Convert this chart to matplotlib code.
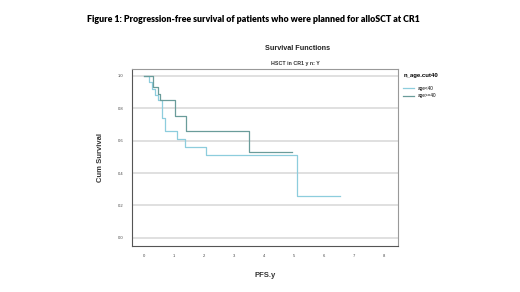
import matplotlib
matplotlib.use("Agg")
import matplotlib.pyplot as plt

plt.rcParams["font.family"] = ["Liberation Sans", "DejaVu Sans"]

# Kaplan-Meier step data (time in years, survival)
t_young = [0.0, 0.17, 0.25, 0.35, 0.45, 0.60, 0.69, 1.08, 1.36, 2.06, 5.08, 6.53]
s_young = [1.0, 0.96, 0.92, 0.88, 0.85, 0.74, 0.66, 0.61, 0.56, 0.51, 0.26, 0.26]
t_old = [0.0, 0.30, 0.45, 0.53, 1.03, 1.39, 3.49, 4.91]
s_old = [1.0, 0.93, 0.89, 0.85, 0.75, 0.66, 0.53, 0.53]

labels = ["age<40", "age>=40"]
colors = ["#8dcddd", "#6a9c9a"]
x_ticks = [0, 1, 2, 3, 4, 5, 6, 7, 8]
y_ticks = [0.0, 0.2, 0.4, 0.6, 0.8, 1.0]

fig = plt.figure(figsize=(5.2, 2.92), dpi=100)
ax = fig.add_axes([132/520, 1 - 246/292, (398-132)/520, (246-68.5)/292])

ax.step(t_young, s_young, where="post", color=colors[0], lw=0.9, label=labels[0])
ax.step(t_old, s_old, where="post", color=colors[1], lw=0.9, label=labels[1])

ax.set_xlim(-0.41, 8.46)
ax.set_ylim(-0.05, 1.045)
ax.set_xticks(x_ticks)
ax.set_xticklabels([str(v) for v in x_ticks], fontsize=3, color="#444444")
ax.set_yticks(y_ticks)
ax.set_yticklabels([f"{v:.1f}" for v in y_ticks], fontsize=3, color="#444444")
ax.tick_params(length=0, pad=6)
ax.grid(axis="y", color="#dddddd", lw=1.3)
ax.set_axisbelow(True)
for side in ["left", "bottom"]:
    ax.spines[side].set_color("#555555")
    ax.spines[side].set_linewidth(0.8)
for side in ["top", "right"]:
    ax.spines[side].set_color("#999999")
    ax.spines[side].set_linewidth(0.8)

ax.set_xlabel("PFS.y", fontsize=5.5, fontweight="bold", color="#333333", labelpad=10)
ax.set_ylabel("Cum Survival", fontsize=5.5, fontweight="bold", color="#333333", labelpad=10)

fig.text(253/520, 1 - 19/292, "Figure 1: Progression-free survival of patients who were planned for alloSCT at CR1",
         ha="center", va="center", fontsize=6.4, fontweight="heavy", family="Lato")
fig.text(298/520, 1 - 49/292, "Survival Functions", ha="center", va="center",
         fontsize=5.2, fontweight="bold", color="#222222")
fig.text(295/520, 1 - 63/292, "HSCT in CR1 y n: Y", ha="center", va="center",
         fontsize=3.8, fontweight="bold", color="#333333")

leg = ax.legend(loc="upper left", bbox_to_anchor=(1.005, 1.0), frameon=False,
                fontsize=3.3, title="n_age.cut40", title_fontsize=4.3,
                handlelength=2.4, labelspacing=0.5, borderaxespad=0.5, alignment="left")
leg.get_title().set_fontweight("bold")
leg._legend_box.sep = 6

fig.savefig("out.png", dpi=100)
